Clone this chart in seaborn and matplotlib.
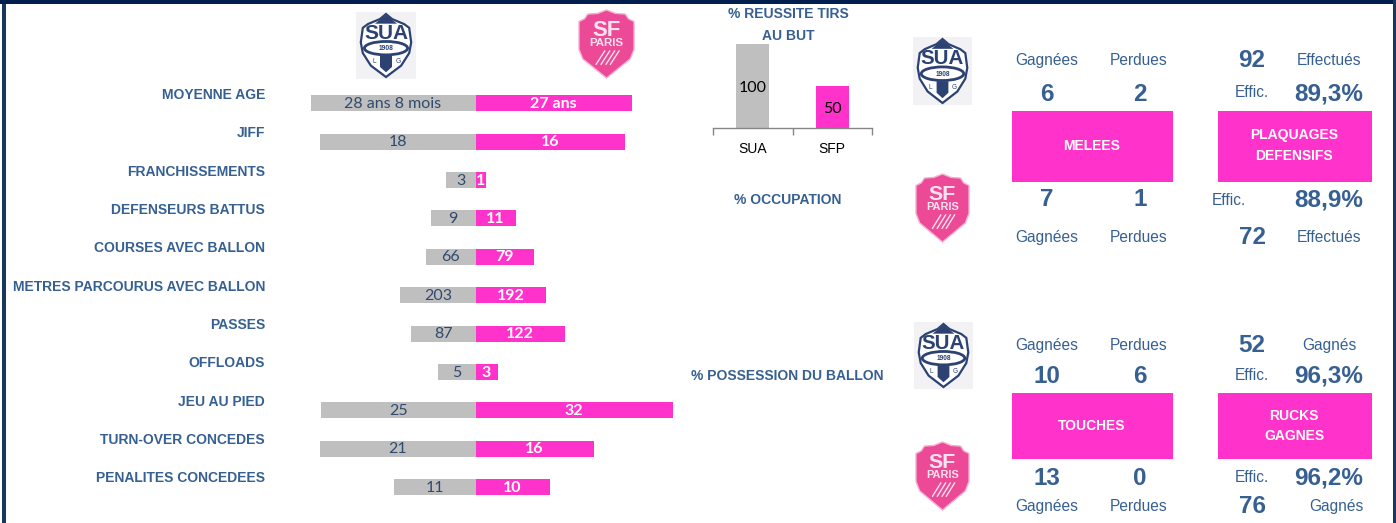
import numpy as np
import pandas as pd
import matplotlib
matplotlib.use("Agg")
import matplotlib.pyplot as plt
from matplotlib.patches import Rectangle, Polygon, Ellipse
import seaborn as sns

categories = ["MOYENNE AGE", "JIFF", "FRANCHISSEMENTS", "DEFENSEURS BATTUS", "COURSES AVEC BALLON",
              "METRES PARCOURUS AVEC BALLON", "PASSES", "OFFLOADS", "JEU AU PIED",
              "TURN-OVER CONCEDES", "PENALITES CONCEDEES"]
sua_labels = ["28 ans 8 mois", "18", "3", "9", "66", "203", "87", "5", "25", "21", "11"]
sfp_labels = ["27 ans", "16", "1", "11", "79", "192", "122", "3", "32", "16", "10"]
# Each row of the source chart has its own scale: bar lengths
sua_bar = [165, 155.5, 30, 44.5, 49.5, 75.5, 64.5, 37.5, 154.5, 155.5, 81.5]
sfp_bar = [156, 149.5, 10, 40, 58, 70, 89, 22, 197, 118, 74]

shot_teams = ["SUA", "SFP"]
shot_pct = [100, 50]

GREY, PINK, BLUE = "#BFBFBF", "#FF33CC", "#376092"
NAVY = "#17375E"

sns.set_theme(style="white")
W, H = 1396, 523
fig = plt.figure(figsize=(W / 100, H / 100), dpi=100, facecolor="white")

def axpx(x0, y0, x1, y1, **kw):
    return fig.add_axes([x0 / W, 1 - y1 / H, (x1 - x0) / W, (y1 - y0) / H], **kw)

bg = axpx(0, 0, W, H)
bg.set_xlim(0, W); bg.set_ylim(H, 0); bg.axis("off")

# frame
bg.add_patch(Rectangle((2, 0), 4, H, color=NAVY, lw=0))
bg.add_patch(Rectangle((W - 3, 0), 3, H, color=NAVY, lw=0))
bg.add_patch(Rectangle((0, 0), W - 3, 3.5, color="#001F4F", lw=0))

SANS = "Liberation Sans"
def t(x, y, s, size=11.5, color=BLUE, weight="normal", ha="center", family=SANS):
    bg.text(x, y + 1.5, s, fontsize=size, color=color, fontweight=weight, ha=ha, va="center", family=family)

# butterfly bars
c_y = 103.3
step = (487 - 103.3) / 10
ax = axpx(275, c_y - step / 2, 690, 487 + step / 2)
ax.patch.set_alpha(0)
df = pd.DataFrame({"cat": categories, "sua": sua_bar, "sfp": sfp_bar})
df["sua_neg"] = -df["sua"]
sns.barplot(data=df, y="cat", x="sua_neg", color=GREY, saturation=1, width=16 / step, ax=ax, orient="h", linewidth=0)
sns.barplot(data=df, y="cat", x="sfp", color=PINK, saturation=1, width=16 / step, ax=ax, orient="h", linewidth=0)
ax.set_xlim(275 - 475.5, 690 - 475.5)
ax.set_ylim(10.5, -0.5)
ax.axis("off")
for lab in ax.bar_label(ax.containers[0], labels=sua_labels, label_type="center", color="#2F4A6D",
                        fontsize=11.5, family="Lato"):
    lab.xyann = (0, -0.5)
for lab in ax.bar_label(ax.containers[1], labels=sfp_labels, label_type="center", color="white",
                        fontsize=11.5, family="Lato", fontweight="bold"):
    lab.xyann = (0, -0.5)
for i, c in enumerate(categories):
    t(265, c_y + step * i - 10, c, size=10, weight="bold", ha="right")

# shot success column chart
t(788, 13, "% REUSSITE TIRS", size=10, weight="bold")
t(788, 34, "AU BUT", size=10, weight="bold")
ax2 = axpx(713, 44, 872, 128)
ax2.patch.set_alpha(0)
sns.barplot(x=shot_teams, y=shot_pct, hue=shot_teams, palette=[GREY, PINK], saturation=1,
            width=0.41, legend=False, ax=ax2, linewidth=0)
ax2.set_xlim(-0.5, 1.5); ax2.set_ylim(0, 100)
for s in ["top", "left", "right"]:
    ax2.spines[s].set_visible(False)
ax2.spines["bottom"].set_color("#868686"); ax2.spines["bottom"].set_linewidth(1.0)
ax2.set_yticks([]); ax2.set_ylabel("")
ax2.set_xticks([-0.5, 0.5, 1.5]); ax2.set_xticklabels([])
ax2.tick_params(axis="x", which="major", length=5, width=1, color="#868686", bottom=True, direction="out")
ax2.set_xticks([0, 1], minor=True)
ax2.set_xticklabels(shot_teams, minor=True, fontsize=10, family=SANS, color="black")
ax2.tick_params(axis="x", which="minor", length=0, pad=10)
for cont in ax2.containers:
    for lab in ax2.bar_label(cont, label_type="center", fontsize=11.5, family="Lato", color="black"):
        lab.xyann = (0, -1.5)

t(788, 198, "% OCCUPATION", size=10, weight="bold")
t(787, 375, "% POSSESSION DU BALLON", size=10, weight="bold")

# logos
def outline(pts, x0, y0, x1, y1):
    return [(x0 + a * (x1 - x0), y0 + b * (y1 - y0)) for a, b in pts]

SUA_SHAPE = [(0.5, 0), (0.62, 0.08), (0.86, 0.16), (0.96, 0.22), (1, 0.45), (0.96, 0.62), (0.8, 0.82), (0.5, 1),
             (0.2, 0.82), (0.04, 0.62), (0, 0.45), (0.04, 0.22), (0.14, 0.16), (0.38, 0.08)]
SF_SHAPE = [(0.5, 0), (0.66, 0.05), (0.84, 0.06), (0.9, 0.13), (1, 0.17), (1, 0.58), (0.93, 0.72), (0.5, 1),
            (0.07, 0.72), (0, 0.58), (0, 0.17), (0.1, 0.13), (0.16, 0.06), (0.34, 0.05)]

def sua_logo(x0, y0, x1, y1):
    bg.add_patch(Rectangle((x0, y0), x1 - x0, y1 - y0, color="#F2F2F4", lw=0))
    w, h = x1 - x0, y1 - y0
    cx = (x0 + x1) / 2
    bg.add_patch(Polygon(outline(SUA_SHAPE, x0 + 0.08 * w, y0 + 2, x1 - 0.08 * w, y1 - 2),
                         fc="white", ec="#2B4273", lw=1.6))
    bg.add_patch(Polygon(outline([(0.5, 0), (0.72, 0.14), (0.28, 0.14)], x0 + 0.08 * w, y0 + 3, x1 - 0.08 * w, y1 - 2),
                         fc="#2B4273", lw=0))
    bg.text(cx, y0 + 0.32 * h, "SUA", fontsize=w * 0.25, fontweight="bold", color="#2B4273", ha="center",
            va="center", family=SANS)
    bg.add_patch(Ellipse((cx, y0 + 0.54 * h), w * 0.72, h * 0.2, fc="white", ec="#2B4273", lw=2))
    bg.text(cx, y0 + 0.545 * h, "1908", fontsize=w * 0.08, fontweight="bold", color="#2B4273", ha="center",
            va="center", family=SANS)
    bg.add_patch(Polygon(outline([(0.4, 0.65), (0.6, 0.65), (0.6, 0.82), (0.5, 0.9), (0.4, 0.82)], x0, y0, x1, y1),
                         fc="#2B4273", lw=0))
    bg.text(cx - 0.2 * w, y0 + 0.74 * h, "L", fontsize=w * 0.08, color="#2B4273", ha="center", va="center", family=SANS)
    bg.text(cx + 0.2 * w, y0 + 0.74 * h, "G", fontsize=w * 0.08, color="#2B4273", ha="center", va="center", family=SANS)

def sf_logo(x0, y0, x1, y1):
    w, h = x1 - x0, y1 - y0
    bg.add_patch(Polygon(outline(SF_SHAPE, x0, y0, x1, y1), fc="#EC4A97", ec="#F6B0D2", lw=1.0))
    cx = (x0 + x1) / 2
    bg.text(cx, y0 + 0.30 * h, "SF", fontsize=w * 0.29, fontweight="bold", color="#FBE3EF", ha="center", va="center", family=SANS)
    bg.text(cx, y0 + 0.49 * h, "PARIS", fontsize=w * 0.15, fontweight="bold", color="#FBE3EF", ha="center", va="center", family=SANS)
    for dx in (-0.11, -0.02, 0.07, 0.15):
        bg.plot([cx + (dx - 0.08) * w, cx + (dx + 0.08) * w], [y0 + 0.80 * h, y0 + 0.60 * h], color="#FBE3EF", lw=1.0)

sua_logo(356, 12, 416, 79); sf_logo(579, 10, 634, 78)
sua_logo(913, 37, 972, 105); sf_logo(916, 174, 969, 242)
sua_logo(914, 322, 973, 389); sf_logo(916, 442, 969, 510)

# panels
for (x0, x1, y0, y1) in [(1012, 1173, 111, 182), (1218, 1372, 111, 182),
                         (1012, 1173, 393, 459), (1218, 1372, 393, 459)]:
    bg.add_patch(Rectangle((x0, y0), x1 - x0, y1 - y0, color=PINK, lw=0))
for x, y, s in [(1092, 144, "MELEES"), (1294, 134, "PLAQUAGES"), (1294, 155, "DEFENSIFS"),
                (1092, 424, "TOUCHES"), (1294, 414, "RUCKS"), (1294, 435, "GAGNES")]:
    t(x, y, s, size=10, weight="bold", color="white")

small = [(1047, 59, "Gagnées"), (1139, 59, "Perdues"), (1329, 59, "Effectués"), (1252, 91, "Effic."),
         (1229, 199, "Effic."), (1047, 236, "Gagnées"), (1139, 236, "Perdues"), (1329, 236, "Effectués"),
         (1047, 344, "Gagnées"), (1139, 344, "Perdues"), (1329, 344, "Gagnés"), (1252, 374, "Effic."),
         (1252, 476, "Effic."), (1047, 505, "Gagnées"), (1139, 505, "Perdues"), (1336, 505, "Gagnés")]
for x, y, s in small:
    t(x, y, s, size=11.2)
big = [(1252, 59, "92"), (1047, 93, "6"), (1140, 93, "2"), (1329, 93, "89,3%"), (1047, 198, "7"), (1140, 198, "1"),
       (1329, 198, "88,9%"), (1252, 236, "72"), (1252, 344, "52"), (1047, 375, "10"), (1140, 375, "6"),
       (1329, 375, "96,3%"), (1047, 477, "13"), (1140, 477, "0"), (1329, 477, "96,2%"), (1252, 505, "76")]
for x, y, s in big:
    t(x, y, s, size=17.5, weight="bold")

fig.savefig("out.png", dpi=100)
